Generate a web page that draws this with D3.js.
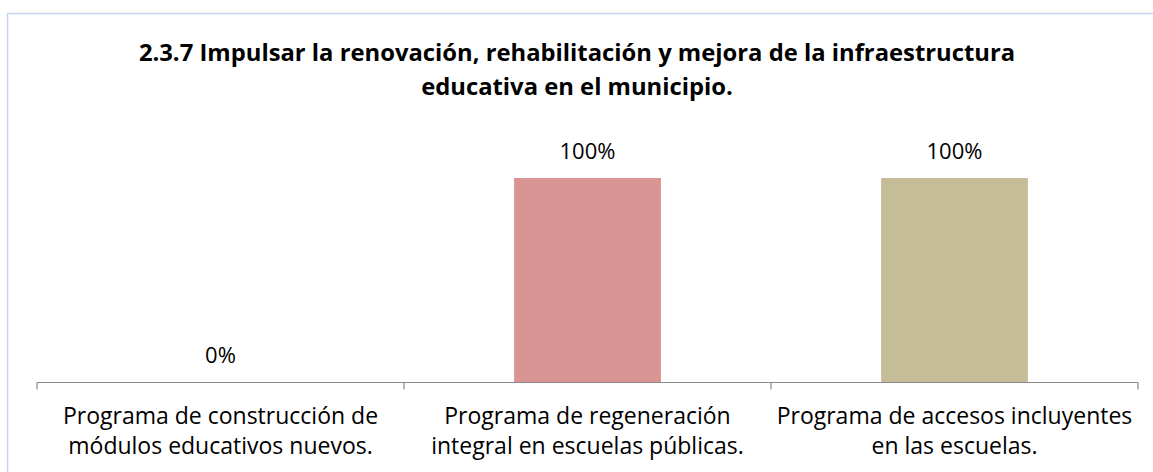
<!DOCTYPE html>
<html>
<head>
<meta charset="utf-8">
<script src="https://cdn.jsdelivr.net/npm/d3@7"></script>
<style>
  body { margin: 0; background: #fff; }
  svg { display: block; font-family: "Open Sans", Lato, sans-serif; }
</style>
</head>
<body>
<div id="chart"></div>
<script>
var titleLines = ["2.3.7 Impulsar la renovación, rehabilitación y mejora de la infraestructura",
                  "educativa en el municipio."];
var categories = [
  ["Programa de construcción de", "módulos educativos nuevos."],
  ["Programa de regeneración", "integral en escuelas públicas."],
  ["Programa de accesos incluyentes", "en las escuelas."]
];
var values = [0, 1, 1];
var colors = ["#4f81bd", "#d99594", "#c4bd97"];

var width = 1153, height = 472;

var svg = d3.select("#chart").append("svg")
  .attr("width", width)
  .attr("height", height);

// chart frame (only top/left visible)
svg.append("path")
  .attr("d", "M7.5," + height + "V13.5H" + width)
  .attr("fill", "none")
  .attr("stroke", "#c6d6ec")
  .attr("stroke-width", 1.5);

svg.append("text")
  .attr("text-anchor", "middle")
  .attr("font-weight", "bold")
  .attr("font-size", 23.8)
  .attr("fill", "#000")
  .selectAll("tspan")
  .data(titleLines)
  .enter()
    .append("tspan")
    .attr("x", 577)
    .attr("y", function (d, i) { return 61 + i * 34; })
    .text(function (d) { return d; });

var x = d3.scaleBand()
  .domain(d3.range(categories.length))
  .range([37, 1138])
  .padding(0);

var y = d3.scaleLinear()
  .domain([0, 1])
  .range([382, 178]);

var barW = x.bandwidth() * 0.4;

svg.append("g")
  .selectAll("rect")
  .data(values)
  .enter()
    .append("rect")
    .attr("x", function (d, i) { return x(i) + (x.bandwidth() - barW) / 2; })
    .attr("y", function (d) { return y(d); })
    .attr("width", barW)
    .attr("height", function (d) { return y(0) - y(d); })
    .attr("fill", function (d, i) { return colors[i]; });

svg.append("g")
  .selectAll("text")
  .data(values)
  .enter()
    .append("text")
    .attr("x", function (d, i) { return x(i) + x.bandwidth() / 2; })
    .attr("y", function (d) { return y(d) - 19; })
    .attr("text-anchor", "middle")
    .attr("font-size", 22)
    .attr("fill", "#000")
    .text(function (d) { return d3.format(".0%")(d); });

// category axis
var axis = svg.append("g").attr("stroke", "#888").attr("stroke-width", 1.2);
axis.append("line")
  .attr("x1", 37).attr("x2", 1138)
  .attr("y1", y(0) + 0.5).attr("y2", y(0) + 0.5);
axis.selectAll("line.tick")
  .data(d3.range(categories.length + 1))
  .enter()
    .append("line")
    .attr("class", "tick")
    .attr("x1", function (d) { return 37 + d * x.bandwidth(); })
    .attr("x2", function (d) { return 37 + d * x.bandwidth(); })
    .attr("y1", y(0) + 0.5)
    .attr("y2", y(0) + 7.5);

var labels = svg.append("g")
  .selectAll("text")
  .data(categories)
  .enter()
    .append("text")
    .attr("text-anchor", "middle")
    .attr("font-size", 23)
    .attr("fill", "#000");
labels.selectAll("tspan")
  .data(function (d, i) { return d.map(function (t) { return { t: t, i: i }; }); })
  .enter()
    .append("tspan")
    .attr("x", function (d) { return x(d.i) + x.bandwidth() / 2; })
    .attr("y", function (d, j) { return 424 + j * 30; })
    .text(function (d) { return d.t; });
</script>
</body>
</html>
